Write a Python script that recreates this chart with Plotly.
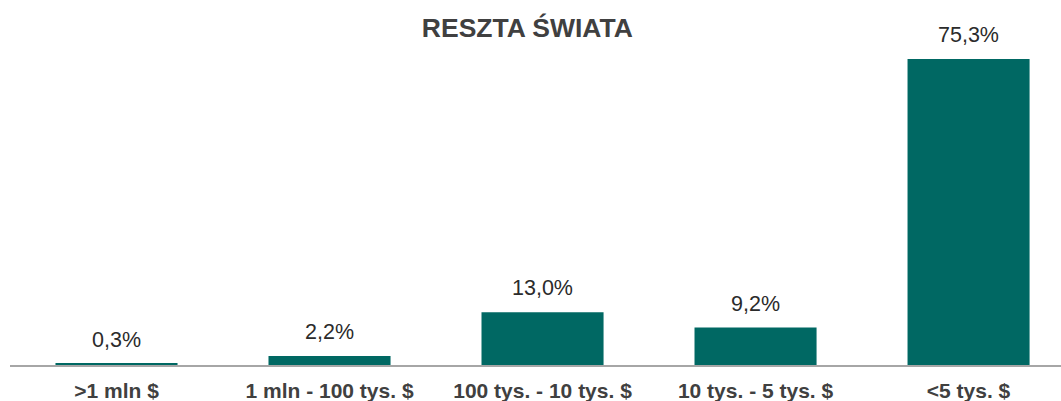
import plotly.graph_objects as go

categories = [">1 mln $", "1 mln - 100 tys. $", "100 tys. - 10 tys. $", "10 tys. - 5 tys. $", "<5 tys. $"]
values = [0.3, 2.2, 13.0, 9.2, 75.3]
title_text = "RESZTA ŚWIATA"

labels = [f"{v:.1f}".replace(".", ",") + "%" for v in values]

fig = go.Figure()
fig.add_trace(go.Bar(
    x=categories, y=values,
    marker=dict(color="#006863", line=dict(width=0)),
    hoverinfo="skip",
))

for c, v, t in zip(categories, values, labels):
    fig.add_annotation(x=c, y=v, text=t, showarrow=False, yanchor="bottom", yshift=10,
                       font=dict(family="Liberation Sans, Arial", size=21.5, color="#2b2b2b"))

fig.update_layout(
    width=1061, height=401,
    margin=dict(l=10, r=0, t=0, b=36),
    paper_bgcolor="white", plot_bgcolor="white",
    bargap=0.427,
    showlegend=False,
    title=dict(text=f"<b>{title_text}</b>", x=0.497, xanchor="center", y=1 - 28 / 401, yanchor="middle",
               xref="container", yref="container",
               font=dict(family="Liberation Sans, Arial", size=26.5, color="#404040")),
    font=dict(family="Liberation Sans, Arial"),
)
fig.update_xaxes(range=[-0.5, 4.434], showline=True, linecolor="#a6a6a6", linewidth=1.5,
                 ticks="", showgrid=False, zeroline=False, ticklabelstandoff=6,
                 tickfont=dict(family="Liberation Sans, Arial", size=21, color="#404040"),
                 tickprefix="<b>", ticksuffix="</b>")
fig.update_yaxes(range=[0, 89.8], visible=False, showgrid=False, zeroline=False)

fig.write_html("out.html", config={"displayModeBar": False},
               post_script="document.body.style.margin='0';")
